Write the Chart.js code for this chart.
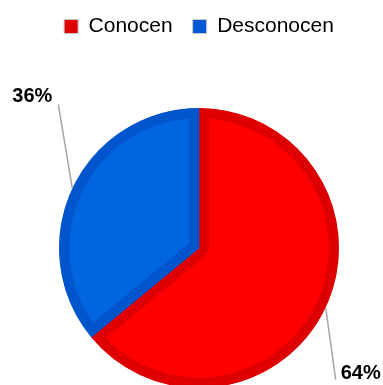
<!DOCTYPE html>
<html>
<head>
<meta charset="utf-8">
<script src="https://cdn.jsdelivr.net/npm/chart.js@4"></script>
<style>
    html, body { margin: 0; padding: 0; background: #fff; overflow: hidden; }
</style>
</head>
<body>
<canvas id="pieChart" width="383" height="400"></canvas>
<script>
const categories = ['Conocen', 'Desconocen'];
const values = [64, 36];

const total = values.reduce((a, b) => a + b, 0);
const percentLabels = values.map(v => Math.round(v / total * 100) + '%');

// where the leader line ends and the label sits, relative to the slice's outer mid point
const labelSpots = [
    { lineX: 10, lineY: 72, textX: 35, textY: 66 },
    { lineX: -14, lineY: -84, textX: -40, textY: -92 }
];

const pieLabels = {
    id: 'pieLabels',
    afterDatasetsDraw(chart) {
        const ctx = chart.ctx;
        const arcs = chart.getDatasetMeta(0).data;
        arcs.forEach((arc, i) => {
            const p = arc.getProps(['x', 'y', 'startAngle', 'endAngle', 'outerRadius'], true);
            const mid = (p.startAngle + p.endAngle) / 2;
            const ax = p.x + Math.cos(mid) * p.outerRadius;
            const ay = p.y + Math.sin(mid) * p.outerRadius;
            const spot = labelSpots[i];
            ctx.save();
            ctx.strokeStyle = '#a6a6a6';
            ctx.lineWidth = 1.5;
            ctx.beginPath();
            ctx.moveTo(ax, ay);
            ctx.lineTo(ax + spot.lineX, ay + spot.lineY);
            ctx.stroke();
            ctx.fillStyle = '#000';
            ctx.font = 'bold 20px "Liberation Sans", Arial, sans-serif';
            ctx.textAlign = 'center';
            ctx.textBaseline = 'middle';
            ctx.fillText(percentLabels[i], ax + spot.textX, ay + spot.textY);
            ctx.restore();
        });
    }
};

const legendGap = {
    id: 'legendGap',
    beforeInit(chart) {
        const fit = chart.legend.fit;
        chart.legend.fit = function () {
            fit.bind(chart.legend)();
            this.height = 112;
        };
    }
};

var ctx = document.getElementById('pieChart').getContext('2d');
var pieChart = new Chart(ctx, { // eslint-disable-line
    type: 'pie',
    data: {
        labels: categories,
        datasets: [{
            data: values,
            backgroundColor: ['#ff0000', '#0066e0'],
            borderColor: ['#de0000', '#0055cc'],
            borderWidth: 10,
            borderAlign: 'inner',
            hoverOffset: 0
        }]
    },
    options: {
        responsive: false,
        animation: false,
        layout: {
            padding: { left: 15, right: 0, top: -4, bottom: 12 }
        },
        plugins: {
            tooltip: { enabled: false },
            legend: {
                position: 'top',
                labels: {
                    boxWidth: 14,
                    boxHeight: 14,
                    padding: 20,
                    color: '#000',
                    font: { family: '"Liberation Sans", Arial, sans-serif', size: 21 },
                    generateLabels(chart) {
                        const items = Chart.overrides.pie.plugins.legend.labels.generateLabels(chart);
                        const boxColors = ['#e00000', '#0058d4'];
                        items.forEach((item, i) => {
                            item.fillStyle = boxColors[i];
                            item.strokeStyle = '#c8c8c8';
                            item.lineWidth = 1;
                        });
                        return items;
                    }
                }
            }
        }
    },
    plugins: [legendGap, pieLabels]
});
</script>
</body>
</html>
